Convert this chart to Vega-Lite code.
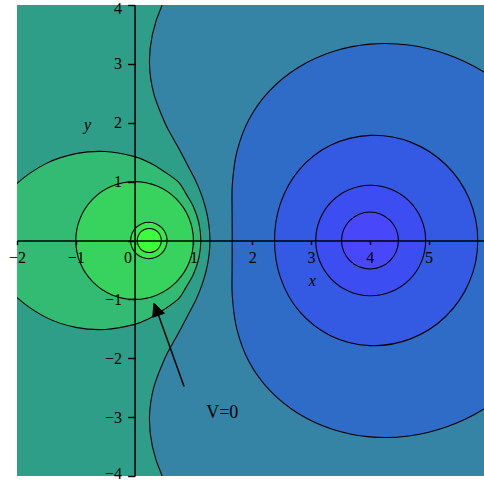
{
  "$schema": "https://vega.github.io/schema/vega-lite/v6.json",
  "width": 467,
  "height": 471,
  "autosize": {"type": "none"},
  "padding": {"left": 17, "top": 5, "right": 0, "bottom": 5},
  "background": "white",
  "config": {"view": {"fill": "#2e9e88", "stroke": null}},
  "datasets": {
    "contours": [
      {"c": "W", "band": "b5", "i": 0, "x": 1.18, "y": 5.0},
      {"c": "W", "band": "b5", "i": 1, "x": 0.75, "y": 4.5},
      {"c": "W", "band": "b5", "i": 2, "x": 0.468, "y": 4.0},
      {"c": "W", "band": "b5", "i": 3, "x": 0.303, "y": 3.5},
      {"c": "W", "band": "b5", "i": 4, "x": 0.253, "y": 3.0},
      {"c": "W", "band": "b5", "i": 5, "x": 0.325, "y": 2.5},
      {"c": "W", "band": "b5", "i": 6, "x": 0.515, "y": 2.0},
      {"c": "W", "band": "b5", "i": 7, "x": 0.646, "y": 1.75},
      {"c": "W", "band": "b5", "i": 8, "x": 0.786, "y": 1.5},
      {"c": "W", "band": "b5", "i": 9, "x": 0.917, "y": 1.25},
      {"c": "W", "band": "b5", "i": 10, "x": 1.046, "y": 1.0},
      {"c": "W", "band": "b5", "i": 11, "x": 1.147, "y": 0.75},
      {"c": "W", "band": "b5", "i": 12, "x": 1.22, "y": 0.5},
      {"c": "W", "band": "b5", "i": 13, "x": 1.265, "y": 0.25},
      {"c": "W", "band": "b5", "i": 14, "x": 1.281, "y": 0.0},
      {"c": "W", "band": "b5", "i": 15, "x": 1.265, "y": -0.25},
      {"c": "W", "band": "b5", "i": 16, "x": 1.22, "y": -0.5},
      {"c": "W", "band": "b5", "i": 17, "x": 1.147, "y": -0.75},
      {"c": "W", "band": "b5", "i": 18, "x": 1.046, "y": -1.0},
      {"c": "W", "band": "b5", "i": 19, "x": 0.917, "y": -1.25},
      {"c": "W", "band": "b5", "i": 20, "x": 0.786, "y": -1.5},
      {"c": "W", "band": "b5", "i": 21, "x": 0.646, "y": -1.75},
      {"c": "W", "band": "b5", "i": 22, "x": 0.515, "y": -2.0},
      {"c": "W", "band": "b5", "i": 23, "x": 0.325, "y": -2.5},
      {"c": "W", "band": "b5", "i": 24, "x": 0.253, "y": -3.0},
      {"c": "W", "band": "b5", "i": 25, "x": 0.303, "y": -3.5},
      {"c": "W", "band": "b5", "i": 26, "x": 0.468, "y": -4.0},
      {"c": "W", "band": "b5", "i": 27, "x": 0.75, "y": -4.5},
      {"c": "W", "band": "b5", "i": 28, "x": 1.18, "y": -5.0},
      {"c": "W", "band": "b5", "i": 29, "x": 3.0, "y": -5.5},
      {"c": "W", "band": "b5", "i": 30, "x": 8.0, "y": -5.5},
      {"c": "W", "band": "b5", "i": 31, "x": 8.0, "y": 5.5},
      {"c": "W", "band": "b5", "i": 32, "x": 3.0, "y": 5.5},

      {"c": "B", "band": "b6", "i": 0, "x": 7.517, "y": 0.0},
      {"c": "B", "band": "b6", "i": 1, "x": 7.24, "y": 1.342},
      {"c": "B", "band": "b6", "i": 2, "x": 6.902, "y": 1.939},
      {"c": "B", "band": "b6", "i": 3, "x": 6.459, "y": 2.459},
      {"c": "B", "band": "b6", "i": 4, "x": 5.92, "y": 2.874},
      {"c": "B", "band": "b6", "i": 5, "x": 5.31, "y": 3.163},
      {"c": "B", "band": "b6", "i": 6, "x": 4.661, "y": 3.321},
      {"c": "B", "band": "b6", "i": 7, "x": 4.0, "y": 3.335},
      {"c": "B", "band": "b6", "i": 8, "x": 3.362, "y": 3.206},
      {"c": "B", "band": "b6", "i": 9, "x": 2.783, "y": 2.939},
      {"c": "B", "band": "b6", "i": 10, "x": 2.298, "y": 2.547},
      {"c": "B", "band": "b6", "i": 11, "x": 1.944, "y": 2.056},
      {"c": "B", "band": "b6", "i": 12, "x": 1.74, "y": 1.51},
      {"c": "B", "band": "b6", "i": 13, "x": 1.663, "y": 0.968},
      {"c": "B", "band": "b6", "i": 14, "x": 1.658, "y": 0.466},
      {"c": "B", "band": "b6", "i": 15, "x": 1.66, "y": 0.0},
      {"c": "B", "band": "b6", "i": 16, "x": 1.658, "y": -0.466},
      {"c": "B", "band": "b6", "i": 17, "x": 1.663, "y": -0.968},
      {"c": "B", "band": "b6", "i": 18, "x": 1.74, "y": -1.51},
      {"c": "B", "band": "b6", "i": 19, "x": 1.944, "y": -2.056},
      {"c": "B", "band": "b6", "i": 20, "x": 2.298, "y": -2.547},
      {"c": "B", "band": "b6", "i": 21, "x": 2.783, "y": -2.939},
      {"c": "B", "band": "b6", "i": 22, "x": 3.362, "y": -3.206},
      {"c": "B", "band": "b6", "i": 23, "x": 4.0, "y": -3.335},
      {"c": "B", "band": "b6", "i": 24, "x": 4.661, "y": -3.321},
      {"c": "B", "band": "b6", "i": 25, "x": 5.31, "y": -3.163},
      {"c": "B", "band": "b6", "i": 26, "x": 5.92, "y": -2.874},
      {"c": "B", "band": "b6", "i": 27, "x": 6.459, "y": -2.459},
      {"c": "B", "band": "b6", "i": 28, "x": 6.902, "y": -1.939},
      {"c": "B", "band": "b6", "i": 29, "x": 7.24, "y": -1.342},

      {"c": "P05", "band": "b7", "i": 0, "x": 5.836, "y": 0.0},
      {"c": "P05", "band": "b7", "i": 1, "x": 5.694, "y": 0.702},
      {"c": "P05", "band": "b7", "i": 2, "x": 5.29, "y": 1.291},
      {"c": "P05", "band": "b7", "i": 3, "x": 4.692, "y": 1.671},
      {"c": "P05", "band": "b7", "i": 4, "x": 4.0, "y": 1.785},
      {"c": "P05", "band": "b7", "i": 5, "x": 3.331, "y": 1.616},
      {"c": "P05", "band": "b7", "i": 6, "x": 2.799, "y": 1.201},
      {"c": "P05", "band": "b7", "i": 7, "x": 2.48, "y": 0.63},
      {"c": "P05", "band": "b7", "i": 8, "x": 2.38, "y": 0.0},
      {"c": "P05", "band": "b7", "i": 9, "x": 2.48, "y": -0.63},
      {"c": "P05", "band": "b7", "i": 10, "x": 2.799, "y": -1.201},
      {"c": "P05", "band": "b7", "i": 11, "x": 3.331, "y": -1.616},
      {"c": "P05", "band": "b7", "i": 12, "x": 4.0, "y": -1.785},
      {"c": "P05", "band": "b7", "i": 13, "x": 4.692, "y": -1.671},
      {"c": "P05", "band": "b7", "i": 14, "x": 5.29, "y": -1.291},
      {"c": "P05", "band": "b7", "i": 15, "x": 5.694, "y": -0.702},

      {"c": "P1", "band": "b8", "i": 0, "x": 4.95, "y": 0.0},
      {"c": "P1", "band": "b8", "i": 1, "x": 4.877, "y": 0.363},
      {"c": "P1", "band": "b8", "i": 2, "x": 4.67, "y": 0.67},
      {"c": "P1", "band": "b8", "i": 3, "x": 4.361, "y": 0.872},
      {"c": "P1", "band": "b8", "i": 4, "x": 4.0, "y": 0.939},
      {"c": "P1", "band": "b8", "i": 5, "x": 3.643, "y": 0.862},
      {"c": "P1", "band": "b8", "i": 6, "x": 3.345, "y": 0.655},
      {"c": "P1", "band": "b8", "i": 7, "x": 3.149, "y": 0.353},
      {"c": "P1", "band": "b8", "i": 8, "x": 3.081, "y": 0.0},
      {"c": "P1", "band": "b8", "i": 9, "x": 3.149, "y": -0.353},
      {"c": "P1", "band": "b8", "i": 10, "x": 3.345, "y": -0.655},
      {"c": "P1", "band": "b8", "i": 11, "x": 3.643, "y": -0.862},
      {"c": "P1", "band": "b8", "i": 12, "x": 4.0, "y": -0.939},
      {"c": "P1", "band": "b8", "i": 13, "x": 4.361, "y": -0.872},
      {"c": "P1", "band": "b8", "i": 14, "x": 4.67, "y": -0.67},
      {"c": "P1", "band": "b8", "i": 15, "x": 4.877, "y": -0.363},

      {"c": "P2", "band": "b9", "i": 0, "x": 4.487, "y": 0.0},
      {"c": "P2", "band": "b9", "i": 1, "x": 4.45, "y": 0.185},
      {"c": "P2", "band": "b9", "i": 2, "x": 4.345, "y": 0.342},
      {"c": "P2", "band": "b9", "i": 3, "x": 4.188, "y": 0.447},
      {"c": "P2", "band": "b9", "i": 4, "x": 4.003, "y": 0.484},
      {"c": "P2", "band": "b9", "i": 5, "x": 3.818, "y": 0.447},
      {"c": "P2", "band": "b9", "i": 6, "x": 3.661, "y": 0.342},
      {"c": "P2", "band": "b9", "i": 7, "x": 3.556, "y": 0.185},
      {"c": "P2", "band": "b9", "i": 8, "x": 3.519, "y": 0.0},
      {"c": "P2", "band": "b9", "i": 9, "x": 3.556, "y": -0.185},
      {"c": "P2", "band": "b9", "i": 10, "x": 3.661, "y": -0.342},
      {"c": "P2", "band": "b9", "i": 11, "x": 3.818, "y": -0.447},
      {"c": "P2", "band": "b9", "i": 12, "x": 4.003, "y": -0.484},
      {"c": "P2", "band": "b9", "i": 13, "x": 4.188, "y": -0.447},
      {"c": "P2", "band": "b9", "i": 14, "x": 4.345, "y": -0.342},
      {"c": "P2", "band": "b9", "i": 15, "x": 4.45, "y": -0.185},

      {"c": "L", "band": "b3", "i": 0, "x": 1.126, "y": 0.0},
      {"c": "L", "band": "b3", "i": 1, "x": 1.092, "y": 0.3},
      {"c": "L", "band": "b3", "i": 2, "x": 1.0, "y": 0.573},
      {"c": "L", "band": "b3", "i": 3, "x": 0.871, "y": 0.8},
      {"c": "L", "band": "b3", "i": 4, "x": 0.75, "y": 0.988},
      {"c": "L", "band": "b3", "i": 5, "x": 0.5, "y": 1.173},
      {"c": "L", "band": "b3", "i": 6, "x": 0.25, "y": 1.323},
      {"c": "L", "band": "b3", "i": 7, "x": 0.0, "y": 1.425},
      {"c": "L", "band": "b3", "i": 8, "x": -0.5, "y": 1.512},
      {"c": "L", "band": "b3", "i": 9, "x": -1.0, "y": 1.475},
      {"c": "L", "band": "b3", "i": 10, "x": -1.5, "y": 1.31},
      {"c": "L", "band": "b3", "i": 11, "x": -2.0, "y": 0.97},
      {"c": "L", "band": "b3", "i": 12, "x": -2.3, "y": 0.6},
      {"c": "L", "band": "b3", "i": 13, "x": -2.4, "y": 0.35},
      {"c": "L", "band": "b3", "i": 14, "x": -2.455, "y": 0.0},
      {"c": "L", "band": "b3", "i": 15, "x": -2.4, "y": -0.35},
      {"c": "L", "band": "b3", "i": 16, "x": -2.3, "y": -0.6},
      {"c": "L", "band": "b3", "i": 17, "x": -2.0, "y": -0.97},
      {"c": "L", "band": "b3", "i": 18, "x": -1.5, "y": -1.31},
      {"c": "L", "band": "b3", "i": 19, "x": -1.0, "y": -1.475},
      {"c": "L", "band": "b3", "i": 20, "x": -0.5, "y": -1.512},
      {"c": "L", "band": "b3", "i": 21, "x": 0.0, "y": -1.425},
      {"c": "L", "band": "b3", "i": 22, "x": 0.25, "y": -1.323},
      {"c": "L", "band": "b3", "i": 23, "x": 0.5, "y": -1.173},
      {"c": "L", "band": "b3", "i": 24, "x": 0.75, "y": -0.988},
      {"c": "L", "band": "b3", "i": 25, "x": 0.871, "y": -0.8},
      {"c": "L", "band": "b3", "i": 26, "x": 1.0, "y": -0.573},
      {"c": "L", "band": "b3", "i": 27, "x": 1.092, "y": -0.3},

      {"c": "Z", "band": "b2", "i": 0, "x": 1.0, "y": 0.0},
      {"c": "Z", "band": "b2", "i": 1, "x": 0.924, "y": 0.383},
      {"c": "Z", "band": "b2", "i": 2, "x": 0.707, "y": 0.707},
      {"c": "Z", "band": "b2", "i": 3, "x": 0.383, "y": 0.924},
      {"c": "Z", "band": "b2", "i": 4, "x": 0.0, "y": 1.0},
      {"c": "Z", "band": "b2", "i": 5, "x": -0.383, "y": 0.924},
      {"c": "Z", "band": "b2", "i": 6, "x": -0.707, "y": 0.707},
      {"c": "Z", "band": "b2", "i": 7, "x": -0.924, "y": 0.383},
      {"c": "Z", "band": "b2", "i": 8, "x": -1.0, "y": 0.0},
      {"c": "Z", "band": "b2", "i": 9, "x": -0.924, "y": -0.383},
      {"c": "Z", "band": "b2", "i": 10, "x": -0.707, "y": -0.707},
      {"c": "Z", "band": "b2", "i": 11, "x": -0.383, "y": -0.924},
      {"c": "Z", "band": "b2", "i": 12, "x": 0.0, "y": -1.0},
      {"c": "Z", "band": "b2", "i": 13, "x": 0.383, "y": -0.924},
      {"c": "Z", "band": "b2", "i": 14, "x": 0.707, "y": -0.707},
      {"c": "Z", "band": "b2", "i": 15, "x": 0.924, "y": -0.383},

      {"c": "N05", "band": "b1", "i": 0, "x": 0.552, "y": 0.0},
      {"c": "N05", "band": "b1", "i": 1, "x": 0.528, "y": 0.119},
      {"c": "N05", "band": "b1", "i": 2, "x": 0.461, "y": 0.219},
      {"c": "N05", "band": "b1", "i": 3, "x": 0.361, "y": 0.286},
      {"c": "N05", "band": "b1", "i": 4, "x": 0.242, "y": 0.31},
      {"c": "N05", "band": "b1", "i": 5, "x": 0.123, "y": 0.286},
      {"c": "N05", "band": "b1", "i": 6, "x": 0.023, "y": 0.219},
      {"c": "N05", "band": "b1", "i": 7, "x": -0.044, "y": 0.119},
      {"c": "N05", "band": "b1", "i": 8, "x": -0.068, "y": 0.0},
      {"c": "N05", "band": "b1", "i": 9, "x": -0.044, "y": -0.119},
      {"c": "N05", "band": "b1", "i": 10, "x": 0.023, "y": -0.219},
      {"c": "N05", "band": "b1", "i": 11, "x": 0.123, "y": -0.286},
      {"c": "N05", "band": "b1", "i": 12, "x": 0.242, "y": -0.31},
      {"c": "N05", "band": "b1", "i": 13, "x": 0.361, "y": -0.286},
      {"c": "N05", "band": "b1", "i": 14, "x": 0.461, "y": -0.219},
      {"c": "N05", "band": "b1", "i": 15, "x": 0.528, "y": -0.119},

      {"c": "N1", "band": "b0", "i": 0, "x": 0.455, "y": 0.0},
      {"c": "N1", "band": "b0", "i": 1, "x": 0.439, "y": 0.078},
      {"c": "N1", "band": "b0", "i": 2, "x": 0.395, "y": 0.145},
      {"c": "N1", "band": "b0", "i": 3, "x": 0.328, "y": 0.189},
      {"c": "N1", "band": "b0", "i": 4, "x": 0.25, "y": 0.205},
      {"c": "N1", "band": "b0", "i": 5, "x": 0.172, "y": 0.189},
      {"c": "N1", "band": "b0", "i": 6, "x": 0.105, "y": 0.145},
      {"c": "N1", "band": "b0", "i": 7, "x": 0.061, "y": 0.078},
      {"c": "N1", "band": "b0", "i": 8, "x": 0.045, "y": 0.0},
      {"c": "N1", "band": "b0", "i": 9, "x": 0.061, "y": -0.078},
      {"c": "N1", "band": "b0", "i": 10, "x": 0.105, "y": -0.145},
      {"c": "N1", "band": "b0", "i": 11, "x": 0.172, "y": -0.189},
      {"c": "N1", "band": "b0", "i": 12, "x": 0.25, "y": -0.205},
      {"c": "N1", "band": "b0", "i": 13, "x": 0.328, "y": -0.189},
      {"c": "N1", "band": "b0", "i": 14, "x": 0.395, "y": -0.145},
      {"c": "N1", "band": "b0", "i": 15, "x": 0.439, "y": -0.078}
    ],
    "arrow": [{"x": 0.841, "y": -2.479, "x2": 0.407, "y2": -1.27}],
    "head": [
      {"k": 0, "x": 0.329, "y": -1.063},
      {"k": 1, "x": 0.507, "y": -1.236},
      {"k": 2, "x": 0.307, "y": -1.304}
    ],
    "axisNames": [
      {"t": "x", "x": 3.02, "y": -0.68},
      {"t": "y", "x": -0.8, "y": 1.97}
    ],
    "notes": [{"t": "V=0", "x": 1.49, "y": -3.01}]
  },
  "layer": [
    {
      "data": {"name": "contours"},
      "mark": {"type": "line", "interpolate": "cardinal-closed", "stroke": "black", "strokeWidth": 1.1, "clip": true},
      "encoding": {
        "x": {
          "field": "x", "type": "quantitative",
          "scale": {"domain": [-2, 5.942], "nice": false, "zero": false},
          "axis": {
            "values": [-2, -1.5, -1, -0.5, 0, 0.5, 1, 1.5, 2, 2.5, 3, 3.5, 4, 4.5, 5, 5.5],
            "format": "d",
            "labelExpr": "datum.value % 1 != 0 ? '' : datum.label",
            "title": null, "grid": false, "offset": -235.5, "zindex": 1,
            "domainColor": "black", "domainWidth": 1.6,
            "tickColor": "black", "tickWidth": 1.4,
            "tickSize": {"condition": {"test": "datum.value % 1 != 0", "value": 3}, "value": 4},
            "labelFont": "Liberation Serif", "labelFontSize": 16, "labelColor": "black",
            "labelPadding": 5, "labelFlush": false, "labelOverlap": false,
            "labelAlign": {"condition": {"test": "datum.value == 0", "value": "right"}, "value": "center"},
            "labelOffset": {"condition": {"test": "datum.value == 0", "value": -3}, "value": 0}
          }
        },
        "y": {
          "field": "y", "type": "quantitative",
          "scale": {"domain": [-4, 4], "nice": false, "zero": false},
          "axis": {
            "values": [-4, -3.5, -3, -2.5, -2, -1.5, -1, -0.5, 0, 0.5, 1, 1.5, 2, 2.5, 3, 3.5, 4],
            "format": "d",
            "labelExpr": "(datum.value % 1 != 0 || datum.value == 0) ? '' : datum.label",
            "title": null, "grid": false, "offset": -117.6, "zindex": 1,
            "domainColor": "black", "domainWidth": 1.6,
            "tickColor": "black", "tickWidth": 1.4,
            "tickSize": {"condition": {"test": "datum.value % 1 != 0", "value": 4}, "value": 7},
            "labelFont": "Liberation Serif", "labelFontSize": 16, "labelColor": "black",
            "labelPadding": 6, "labelFlush": false, "labelOverlap": false,
            "labelOffset": {"condition": [{"test": "datum.value == 4", "value": 3}, {"test": "datum.value == -4", "value": -3}], "value": 0}
          }
        },
        "order": {"field": "i", "type": "quantitative"},
        "detail": {"field": "c", "type": "nominal"},
        "fill": {
          "field": "band", "type": "nominal", "legend": null,
          "scale": {
            "domain": ["b0", "b1", "b2", "b3", "b4", "b5", "b6", "b7", "b8", "b9"],
            "range": ["#3dfb3d", "#3ae84a", "#38d35e", "#33bb74", "#2e9e88", "#3584a6", "#2f6cc8", "#3459e2", "#3c4ef2", "#4848fa"]
          }
        }
      }
    },
    {
      "data": {"name": "arrow"},
      "mark": {"type": "rule", "color": "black", "strokeWidth": 1.5},
      "encoding": {
        "x": {"field": "x", "type": "quantitative"},
        "y": {"field": "y", "type": "quantitative"},
        "x2": {"field": "x2"},
        "y2": {"field": "y2"}
      }
    },
    {
      "data": {"name": "head"},
      "mark": {"type": "line", "interpolate": "linear-closed", "stroke": "black", "strokeWidth": 1, "fill": "black"},
      "encoding": {
        "x": {"field": "x", "type": "quantitative"},
        "y": {"field": "y", "type": "quantitative"},
        "order": {"field": "k", "type": "quantitative"}
      }
    },
    {
      "data": {"name": "axisNames"},
      "mark": {"type": "text", "font": "Liberation Serif", "fontSize": 16, "fontStyle": "italic", "color": "black", "baseline": "middle", "align": "center"},
      "encoding": {
        "x": {"field": "x", "type": "quantitative"},
        "y": {"field": "y", "type": "quantitative"},
        "text": {"field": "t"}
      }
    },
    {
      "data": {"name": "notes"},
      "mark": {"type": "text", "font": "Liberation Serif", "fontSize": 18, "color": "black", "baseline": "alphabetic", "align": "center"},
      "encoding": {
        "x": {"field": "x", "type": "quantitative"},
        "y": {"field": "y", "type": "quantitative"},
        "text": {"field": "t"}
      }
    }
  ]
}
